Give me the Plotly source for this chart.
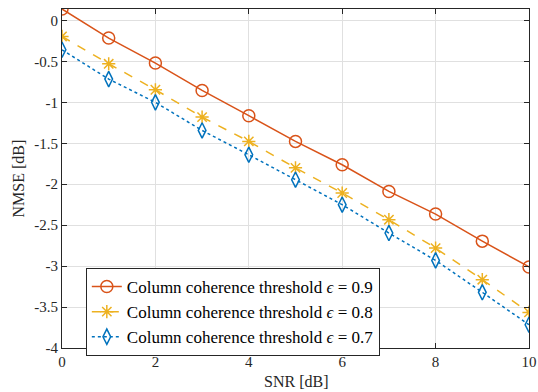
import plotly.graph_objects as go

snr = [0, 1, 2, 3, 4, 5, 6, 7, 8, 9, 10]
nmse_09 = [0.14, -0.215, -0.52, -0.855, -1.163, -1.477, -1.762, -2.088, -2.364, -2.695, -3.01]
nmse_08 = [-0.195, -0.529, -0.846, -1.18, -1.477, -1.80, -2.107, -2.433, -2.78, -3.166, -3.565]
nmse_07 = [-0.358, -0.716, -1.0, -1.343, -1.64, -1.945, -2.25, -2.596, -2.93, -3.32, -3.716]
labels = ["Column coherence threshold <i>ϵ</i> = 0.9",
          "Column coherence threshold <i>ϵ</i> = 0.8",
          "Column coherence threshold <i>ϵ</i> = 0.7"]
x_ticks = [0, 2, 4, 6, 8, 10]
y_ticks = [0, -0.5, -1, -1.5, -2, -2.5, -3, -3.5, -4]
y_tick_text = ["0", "-0.5", "-1", "-1.5", "-2", "-2.5", "-3", "-3.5", "-4"]

red = "#D95319"
yellow = "#EDB120"
blue = "#0072BD"
axc = "#262626"
serif = "Liberation Serif"

fig = go.Figure()
fig.add_trace(go.Scatter(x=snr, y=nmse_09, mode="lines+markers", name=labels[0],
                         line=dict(color=red, width=1.5),
                         marker=dict(symbol="circle-open", size=12, color=red, line=dict(width=1.5))))
fig.add_trace(go.Scatter(x=snr, y=nmse_08, mode="lines+markers", name=labels[1],
                         line=dict(color=yellow, width=1.5, dash="dash"),
                         marker=dict(symbol="asterisk-open", size=11, color=yellow, line=dict(width=1.5, color=yellow))))
fig.add_trace(go.Scatter(x=snr, y=nmse_07, mode="lines+markers", name=labels[2],
                         line=dict(color=blue, width=1.5, dash="dot"),
                         marker=dict(symbol="diamond-tall-open", size=11, color=blue, line=dict(width=1.5))))

tick_font = dict(family=serif, size=15, color=axc)
title_font = dict(family=serif, size=16, color=axc)
fig.update_layout(
    width=538, height=392,
    margin=dict(l=62, r=9, t=9, b=44),
    paper_bgcolor="white", plot_bgcolor="white",
    font=tick_font,
    showlegend=True,
    legend=dict(x=0.051, y=0.236, xanchor="left", yanchor="top",
                bgcolor="white", bordercolor=axc, borderwidth=1,
                font=dict(family=serif, size=17, color="black"),
                tracegroupgap=0, itemwidth=30),
    annotations=[
        dict(text="SNR [dB]", xref="paper", yref="paper", x=0.5, y=0, yshift=-33,
             xanchor="center", yanchor="middle", showarrow=False, font=title_font),
        dict(text="NMSE [dB]", xref="paper", yref="paper", x=0, y=0.5, xshift=-44,
             xanchor="center", yanchor="middle", textangle=-90, showarrow=False, font=title_font),
    ],
)
fig.update_xaxes(range=[0, 10], tickvals=x_ticks, ticks="inside", ticklen=5, tickcolor=axc,
                 showline=True, linecolor=axc, linewidth=1, mirror="ticks",
                 showgrid=True, gridcolor="#e0e0e0", gridwidth=1, zeroline=False,
                 automargin=False, tickfont=tick_font)
fig.update_yaxes(range=[-4, 0.14], tickvals=y_ticks, ticktext=y_tick_text, ticks="inside", ticklen=5, tickcolor=axc,
                 showline=True, linecolor=axc, linewidth=1, mirror="ticks",
                 showgrid=True, gridcolor="#e0e0e0", gridwidth=1, zeroline=False,
                 automargin=False, tickfont=tick_font)

fig.write_html("out.html", config={"displayModeBar": False},
               post_script="document.body.style.margin='0';")
